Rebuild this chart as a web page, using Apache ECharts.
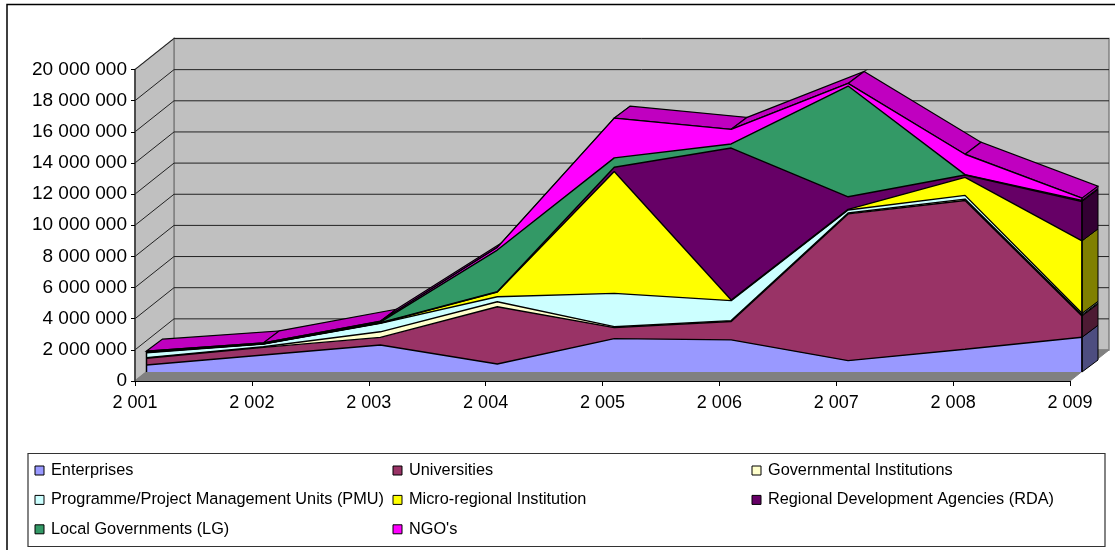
<!DOCTYPE html>
<html>
<head>
<meta charset="utf-8">
<title>Funding by beneficiary type</title>
<style>
  html, body { margin: 0; padding: 0; background: #fff; }
  #chart { width: 1115px; height: 550px; }
</style>
<script src="https://cdn.jsdelivr.net/npm/echarts@6/dist/echarts.min.js"></script>
</head>
<body>
<div id="chart"></div>
<script>
const years = ['2 001', '2 002', '2 003', '2 004', '2 005', '2 006', '2 007', '2 008', '2 009'];
const yTicks = [0, 2000000, 4000000, 6000000, 8000000, 10000000, 12000000, 14000000, 16000000, 18000000, 20000000];

const enterprises = [450000, 1090000, 1730000, 510000, 2140000, 2060000, 730000, 1460000, 2230000];
const universities = [430000, 490000, 490000, 3680000, 710000, 1180000, 9420000, 9550000, 1370000];
const governmental = [40000, 40000, 360000, 320000, 60000, 60000, 60000, 90000, 60000];
const pmu = [320000, 170000, 540000, 320000, 2140000, 1280000, 190000, 240000, 110000];
const microRegional = [20000, 20000, 20000, 300000, 7820000, 40000, 40000, 1160000, 4650000];
const rda = [20000, 0, 20000, 20000, 280000, 9760000, 810000, 150000, 2530000];
const localGov = [20000, 20000, 40000, 2680000, 600000, 260000, 7110000, 20000, 60000];
const ngo = [40000, 40000, 60000, 170000, 2550000, 940000, 170000, 1310000, 150000];

const seriesNames = [
  'Enterprises', 'Universities', 'Governmental Institutions',
  'Programme/Project Management Units (PMU)', 'Micro-regional Institution',
  'Regional Development Agencies (RDA)', 'Local Governments (LG)', "NGO's"
];
const seriesValues = [enterprises, universities, governmental, pmu, microRegional, rda, localGov, ngo];
const seriesColors = ['#9999FF', '#993366', '#FFFFCC', '#CCFFFF', '#FFFF00', '#660066', '#339966', '#FF00FF'];
const sideColors = ['#4D4D80', '#4D1A33', '#808066', '#668080', '#808000', '#330033', '#1A4D33', '#800080'];

const FONT = '"Liberation Sans", Arial, sans-serif';
const WALL_DX = 39, WALL_DY = 31;   // depth of the whole box
const BAND_DX = 16, BAND_DY = 12;   // depth of the area band
const last = years.length - 1;

// stack totals per year
const totals = years.map((y, i) => seriesValues.reduce((sum, s) => sum + s[i], 0));
const topSegments = years.slice(0, last).map((y, i) => [i, totals[i], totals[i + 1]]);

// [low, high, colour index] of each layer at the last year
let running = 0;
const endLayers = seriesValues.map((s, k) => {
  const row = [running, running + s[last], k];
  running += s[last];
  return row;
});

function poly(points, fill, stroke, lineWidth) {
  return {
    type: 'polygon',
    shape: { points: points },
    style: { fill: fill, stroke: stroke, lineWidth: lineWidth }
  };
}

function renderWalls(params, api) {
  const bl = api.coord([0, 0]);
  const tl = api.coord([0, yTicks[yTicks.length - 1]]);
  const br = api.coord([last, 0]);
  const back = p => [p[0] + WALL_DX, p[1] - WALL_DY];
  const edge = '#808080';
  return {
    type: 'group',
    children: [
      poly([back(bl), back(tl), [br[0] + WALL_DX, tl[1] - WALL_DY], back(br)], '#C0C0C0', edge, 1.5),
      poly([bl, tl, back(tl), back(bl)], '#C0C0C0', edge, 1.5),
      poly([bl, br, back(br), back(bl)], '#808080', edge, 1)
    ]
  };
}

function renderGridLine(params, api) {
  const p = api.coord([0, api.value(1)]);
  const r = api.coord([last, api.value(1)]);
  const back = [p[0] + WALL_DX, p[1] - WALL_DY];
  return {
    type: 'polyline',
    shape: { points: [[p[0], p[1]], back, [r[0] + WALL_DX, r[1] - WALL_DY]] },
    style: { fill: null, stroke: '#222', lineWidth: 1 }
  };
}

function renderTop(params, api) {
  const a = api.coord([api.value(0), api.value(1)]);
  const b = api.coord([api.value(0) + 1, api.value(2)]);
  return poly([a, b, [b[0] + BAND_DX, b[1] - BAND_DY], [a[0] + BAND_DX, a[1] - BAND_DY]], '#C000C0', '#000', 1.2);
}

function renderSide(params, api) {
  const lo = api.coord([last, api.value(1)]);
  const hi = api.coord([last, api.value(2)]);
  return poly([lo, hi, [hi[0] + BAND_DX, hi[1] - BAND_DY], [lo[0] + BAND_DX, lo[1] - BAND_DY]],
    sideColors[api.value(3)], '#000', 1);
}

function renderEdge(params, api) {
  const lo = api.coord([api.value(0), 0]);
  const hi = api.coord([api.value(0), api.value(1)]);
  return {
    type: 'line',
    shape: { x1: lo[0], y1: lo[1], x2: hi[0], y2: hi[1] },
    style: { stroke: '#000', lineWidth: 1.5 }
  };
}

function legendColumn(left, names) {
  return {
    orient: 'vertical',
    left: left,
    top: 462.5,
    padding: 0,
    itemGap: 13.4,
    itemWidth: 9,
    itemHeight: 9,
    icon: 'rect',
    selectedMode: false,
    itemStyle: { borderColor: '#000', borderWidth: 1 },
    textStyle: { fontFamily: FONT, fontSize: 16.3, color: '#000', lineHeight: 16, padding: [0, 0, 0, 2] },
    data: names
  };
}

const areaSeries = seriesNames.map((name, k) => ({
  name: name,
  type: 'line',
  xAxisIndex: 1,
  yAxisIndex: 1,
  stack: 'total',
  z: 4,
  symbol: 'none',
  color: seriesColors[k],
  lineStyle: { color: '#000', width: 1.4 },
  areaStyle: { color: seriesColors[k], opacity: 1 },
  itemStyle: { color: seriesColors[k] },
  data: seriesValues[k]
}));

const option = {
  animation: false,
  backgroundColor: '#fff',
  graphic: [
    { type: 'rect', z: 0, shape: { x: 7, y: 4.5, width: 1200, height: 600 }, style: { fill: null, stroke: '#000', lineWidth: 1.5 } },
    { type: 'rect', z: 0, shape: { x: 28, y: 453.5, width: 1077, height: 93 }, style: { fill: null, stroke: '#333', lineWidth: 1.2 } }
  ],
  legend: [
    legendColumn(34.5, [seriesNames[0], seriesNames[3], seriesNames[6]]),
    legendColumn(392.5, [seriesNames[1], seriesNames[4], seriesNames[7]]),
    legendColumn(751.5, [seriesNames[2], seriesNames[5]])
  ],
  grid: [
    { left: 135, width: 935, top: 69.5, height: 311.5 },
    { left: 146.5, width: 935.5, top: 60.5, height: 311.5 }
  ],
  xAxis: [
    {
      type: 'category',
      gridIndex: 0,
      boundaryGap: false,
      data: years,
      z: 10,
      axisLine: { lineStyle: { color: '#000', width: 1 } },
      axisTick: { show: true, alignWithLabel: true, length: 5, lineStyle: { color: '#000' } },
      axisLabel: { interval: 0, margin: 13, fontFamily: FONT, fontSize: 18, color: '#000' },
      splitLine: { show: false }
    },
    { type: 'category', gridIndex: 1, boundaryGap: false, data: years, show: false }
  ],
  yAxis: [
    {
      type: 'value',
      gridIndex: 0,
      min: 0,
      max: 20000000,
      interval: 2000000,
      z: 10,
      axisLine: { show: true, lineStyle: { color: '#333', width: 1.5 } },
      axisTick: { show: true, length: 4, lineStyle: { color: '#000' } },
      axisLabel: {
        margin: 8,
        fontFamily: FONT,
        fontSize: 19,
        color: '#000',
        formatter: v => String(v).replace(/\B(?=(\d{3})+$)/g, ' ')
      },
      splitLine: { show: false }
    },
    { type: 'value', gridIndex: 1, min: 0, max: 20000000, show: false, splitLine: { show: false } }
  ],
  series: [
    { type: 'custom', z: 1, silent: true, xAxisIndex: 0, yAxisIndex: 0, renderItem: renderWalls, data: [[0, 0]] },
    { type: 'custom', z: 2, silent: true, xAxisIndex: 0, yAxisIndex: 0, renderItem: renderGridLine, data: yTicks.slice(1).map(v => [0, v]) },
    { type: 'custom', z: 3, silent: true, xAxisIndex: 1, yAxisIndex: 1, renderItem: renderTop, data: topSegments },
    ...areaSeries,
    { type: 'custom', z: 5, silent: true, xAxisIndex: 1, yAxisIndex: 1, renderItem: renderSide, data: endLayers.map(r => [last, r[0], r[1], r[2]]) },
    { type: 'custom', z: 6, silent: true, xAxisIndex: 1, yAxisIndex: 1, renderItem: renderEdge, data: [[0, totals[0]], [last, totals[last]]] }
  ]
};

const myChart = echarts.init(document.getElementById('chart'));
myChart.setOption(option);
</script>
</body>
</html>
